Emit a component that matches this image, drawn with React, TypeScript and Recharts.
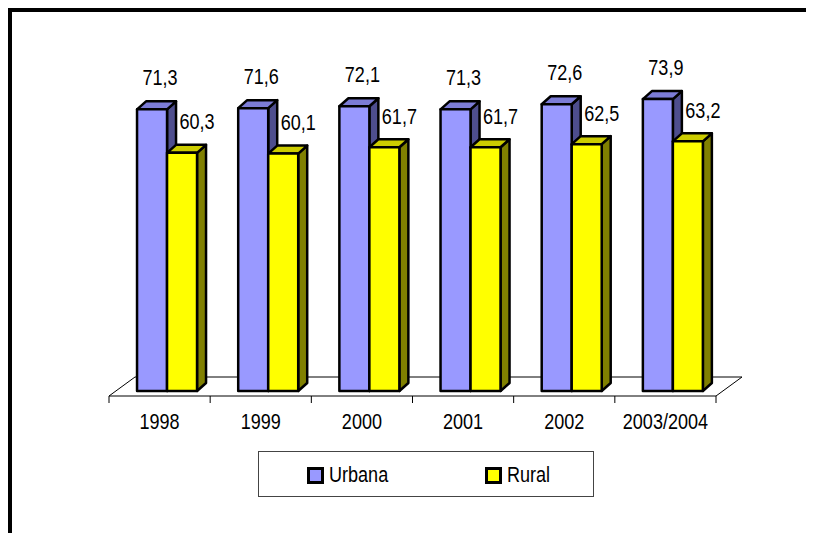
import React from "react";
import { BarChart, Bar, XAxis, YAxis, LabelList, Customized } from "recharts";

const categories = ["1998", "1999", "2000", "2001", "2002", "2003/2004"];
const urbana = [71.3, 71.6, 72.1, 71.3, 72.6, 73.9];
const rural = [60.3, 60.1, 61.7, 61.7, 62.5, 63.2];

const data = categories.map((year, i) => ({
  year,
  urbana: urbana[i],
  rural: rural[i],
}));

const W = 806;
const H = 525;
const MARGIN = { top: 67, right: 98, bottom: 112, left: 101 };
const AXIS_H = 30;
const ZERO_Y = H - MARGIN.bottom - AXIS_H; // baseline of the bars
const PLOT_L = MARGIN.left;
const PLOT_R = W - MARGIN.right;
const BAND = (PLOT_R - PLOT_L) / categories.length;
const FONT = "'Liberation Sans', Arial, sans-serif";
const NARROW = 0.82; // Arial Narrow look

// 3D look
const SHIFT = 7.5; // bars sit a bit inside the floor
const DX = 9;
const DY = -8;
const FLOOR_DX = 26;
const FLOOR_DY = -19;

const palette = {
  urbana: { front: "#9999FF", top: "#7C7CD6", side: "#4E4E8E" },
  rural: { front: "#FFFF00", top: "#CCCC00", side: "#808000" },
};

const fmt = (v: number) => v.toFixed(1).replace(".", ",");

function NarrowText({ x, y, children }: { x: number; y: number; children: React.ReactNode }) {
  return (
    <text
      transform={`translate(${x},${y}) scale(${NARROW},1)`}
      textAnchor="middle"
      dominantBaseline="central"
      fontFamily={FONT}
      fontSize={22}
      fill="#000"
    >
      {children}
    </text>
  );
}

function Bar3D(props: any) {
  const { x, y, width, height, colors } = props;
  const x0 = x + SHIFT;
  const x1 = x0 + width;
  const y0 = y;
  const y1 = y + height;
  return (
    <g stroke="#000" strokeWidth={2.5} strokeLinejoin="round">
      <polygon
        points={`${x1},${y0} ${x1 + DX},${y0 + DY} ${x1 + DX},${y1 + DY} ${x1},${y1}`}
        fill={colors.side}
      />
      <polygon
        points={`${x0},${y0} ${x0 + DX},${y0 + DY} ${x1 + DX},${y0 + DY} ${x1},${y0}`}
        fill={colors.top}
      />
      <rect x={x0} y={y0} width={width} height={height} fill={colors.front} />
    </g>
  );
}

function makeLabel(dx: number, dy: number) {
  return (props: any) => {
    const { x, y, width, value } = props;
    return <NarrowText x={x + width / 2 + dx} y={y + dy}>{fmt(value)}</NarrowText>;
  };
}

function YearTick(props: any) {
  const { x, index, payload } = props;
  const left = x - BAND / 2;
  const right = x + BAND / 2;
  const fy = ZERO_Y + 5;
  return (
    <g>
      <line x1={left} y1={fy} x2={left} y2={fy + 7} stroke="#000" />
      {index === categories.length - 1 && (
        <line x1={right} y1={fy} x2={right} y2={fy + 7} stroke="#000" />
      )}
      <NarrowText x={x} y={ZERO_Y + 30.5}>{payload.value}</NarrowText>
    </g>
  );
}

function Floor() {
  const fy = ZERO_Y + 5;
  const by = fy + FLOOR_DY;
  return (
    <g stroke="#000" strokeWidth={1} fill="none">
      <line x1={PLOT_L} y1={fy} x2={PLOT_R} y2={fy} />
      <line x1={PLOT_L + FLOOR_DX} y1={by} x2={PLOT_R + FLOOR_DX} y2={by} />
      <line x1={PLOT_L} y1={fy} x2={PLOT_L + FLOOR_DX} y2={by} />
      <line x1={PLOT_R} y1={fy} x2={PLOT_R + FLOOR_DX} y2={by} />
    </g>
  );
}

function LegendBox() {
  const item = (left: number, label: string, color: string) => (
    <div
      style={{
        position: "absolute",
        left,
        top: 13,
        display: "flex",
        alignItems: "center",
        height: 20,
      }}
    >
      <span
        style={{
          width: 11,
          height: 11,
          border: "3px solid #000",
          background: color,
          marginRight: 5,
        }}
      />
      <span
        style={{
          fontFamily: FONT,
          fontSize: 22,
          color: "#000",
          lineHeight: "20px",
          display: "inline-block",
          transform: `scaleX(${NARROW})`,
          transformOrigin: "left center",
        }}
      >
        {label}
      </span>
    </div>
  );
  return (
    <div
      style={{
        position: "absolute",
        left: 250,
        top: 443,
        width: 334,
        height: 44,
        border: "1px solid #444",
        background: "#fff",
      }}
    >
      {item(48, "Urbana", palette.urbana.front)}
      {item(226, "Rural", palette.rural.front)}
    </div>
  );
}

export default function App() {
  return (
    <div style={{ position: "relative", width: W, height: H, overflow: "hidden", background: "#fff" }}>
      <div
        style={{
          position: "absolute",
          left: 0,
          top: 0,
          width: W + 40,
          height: H + 40,
          border: "4px solid #000",
          boxSizing: "border-box",
        }}
      />
      <div style={{ position: "absolute", left: 0, top: 0 }}>
        <BarChart
          width={W}
          height={H}
          data={data}
          margin={MARGIN}
          barCategoryGap="20.3%"
          barGap={0}
        >
          <Customized component={<Floor />} />
          <XAxis
            dataKey="year"
            height={AXIS_H}
            axisLine={false}
            tickLine={false}
            tick={<YearTick />}
            interval={0}
          />
          <YAxis hide domain={[0, 80]} />
          <Bar
            dataKey="urbana"
            isAnimationActive={false}
            shape={(p: any) => <Bar3D {...p} colors={palette.urbana} />}
          >
            <LabelList dataKey="urbana" content={makeLabel(SHIFT + 8, -32)} />
          </Bar>
          <Bar
            dataKey="rural"
            isAnimationActive={false}
            shape={(p: any) => <Bar3D {...p} colors={palette.rural} />}
          >
            <LabelList dataKey="rural" content={makeLabel(SHIFT + 15, -31)} />
          </Bar>
        </BarChart>
      </div>
      <LegendBox />
    </div>
  );
}
